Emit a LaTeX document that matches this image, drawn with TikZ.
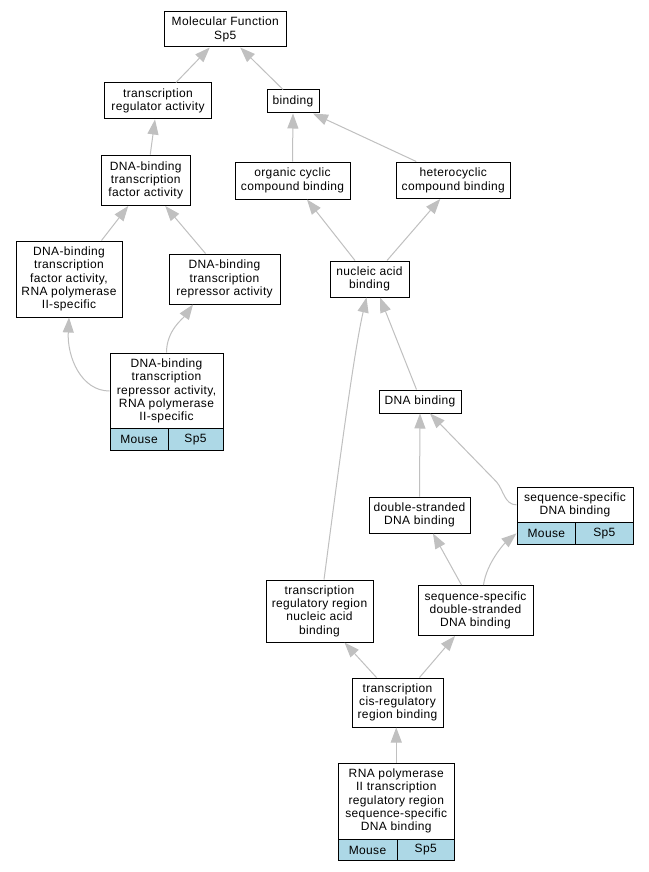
\documentclass[tikz,border=0pt]{standalone}
\usepackage{fontspec}
\setmainfont{Liberation Sans}[LetterSpace=3]
\usepackage{tikz}
\usetikzlibrary{arrows.meta}
\definecolor{edgegray}{HTML}{C0C0C0}
\definecolor{cellblue}{HTML}{ADD8E6}

\begin{document}
\begin{tikzpicture}[x=1pt, y=-1pt,
  term/.style 2 args={draw, line width=1pt, inner sep=0pt, align=center,
    minimum width=#1pt, minimum height=#2pt,
    font=\fontsize{12}{13.3}\selectfont},
  cell/.style={term={#1}{21.5}, fill=cellblue},
  isa/.style={draw=edgegray, line width=1pt, -{Triangle[length=15pt, width=11pt]}}]
\fill[white] (0,0) rectangle (648,872);
\useasboundingbox (0,0) rectangle (648,872);
%terms
\node[term={122.5}{35}] (mf) at (225.25, 29.5) {Molecular Function\\Sp5};
\node[term={107}{36}] (tra) at (158, 101) {transcription\\regulator activity};
\node[term={52}{23}] (bnd) at (293, 101.5) {binding};
\node[term={89.5}{50.5}] (dbtfa) at (145.75, 180.25) {DNA-binding\\transcription\\factor activity};
\node[term={115}{37}] (occb) at (292.5, 180.5) {organic cyclic\\compound binding};
\node[term={114.5}{36.5}] (hccb) at (453.25, 180.25) {heterocyclic\\compound binding};
\node[term={106}{76}] (rnapa) at (69, 279) {DNA-binding\\transcription\\factor activity,\\RNA polymerase\\II-specific};
\node[term={111}{50}] (dbtra) at (224.5, 279) {DNA-binding\\transcription\\repressor activity};
\node[term={79}{36}] (nab) at (369.5, 279) {nucleic acid\\binding};
\node[term={82}{23}] (dnab) at (420, 401.5) {DNA binding};
\node[term={101}{36}] (dsdb) at (419.5, 515) {double-stranded\\DNA binding};
\node[term={107}{62}] (trrnab) at (319.5, 611) {transcription\\regulatory region\\nucleic acid\\binding};
\node[term={115}{50}] (ssdsdb) at (475.5, 610.5) {sequence-specific\\double-stranded\\DNA binding};
\node[term={91}{49}] (tcrrb) at (397.5, 702.5) {transcription\\cis-regulatory\\region binding};
%annotated terms
\node[term={113}{76}] (dbtrp) at (166.5, 391) {DNA-binding\\transcription\\repressor activity,\\RNA polymerase\\II-specific};
\node[cell=58] (m10) at (139, 439.5) {Mouse};
\node[cell=55] (s10) at (195.5, 439.5) {Sp5};
\node[term={116}{35.7}] (sdb) at (575, 504.85) {sequence-specific\\DNA binding};
\node[cell=58.7] (m13) at (546.35, 533.35) {Mouse};
\node[cell=57.3] (s13) at (604.35, 533.35) {Sp5};
\node[term={116.5}{76}] (rnap) at (396.25, 801) {RNA polymerase\\II transcription\\regulatory region\\sequence-specific\\DNA binding};
\node[cell=59] (m17) at (367.5, 850) {Mouse};
\node[cell=57.5] (s17) at (425.75, 850) {Sp5};
%is-a edges
\draw[isa] ([xshift=18]tra.north) -- ([xshift=-15.5]mf.south);
\draw[isa] ([xshift=-10]bnd.north) -- ([xshift=15]mf.south);
\draw[isa] ([xshift=4.5]dbtfa.north) -- ([xshift=-3]tra.south);
\draw[isa] (occb.north) -- (bnd.south);
\draw[isa] ([xshift=-37]hccb.north) -- ([xshift=20]bnd.south);
\draw[isa] ([xshift=32.5]rnapa.north) -- ([xshift=-17.5]dbtfa.south);
\draw[isa] ([xshift=-19]dbtra.north) -- ([xshift=19.5]dbtfa.south);
\draw[isa] ([xshift=-14.5]nab.north) -- ([xshift=14.5]occb.south);
\draw[isa] ([xshift=17.5]nab.north) -- ([xshift=-13]hccb.south);
\draw[isa] (dbtrp.west) .. controls +(-28,0) and +(-2,40) .. (rnapa.south);
\draw[isa] (dbtrp.north) .. controls +(0,-22) and +(-10,14) .. ([xshift=-31.5]dbtra.south);
\draw[isa] ([xshift=-3.5]dnab.north) -- ([xshift=10.5]nab.south);
\draw[isa] ([xshift=4.5]trrnab.north) .. controls +(8,-60) and +(-14,60) .. ([xshift=-3]nab.south);
\draw[isa] (dsdb.north) -- (dnab.south);
\draw[isa] (sdb.west) .. controls +(-12,0) and +(7,8) .. ++(-20,-23) -- ([xshift=10]dnab.south);
\draw[isa] ([xshift=-14]ssdsdb.north) -- ([xshift=13.5]dsdb.south);
\draw[isa] ([xshift=8]ssdsdb.north) .. controls +(3,-22) and +(-12,10) .. (m13.west);
\draw[isa] ([xshift=-21]tcrrb.north) -- ([xshift=25]trrnab.south);
\draw[isa] ([xshift=22]tcrrb.north) -- ([xshift=-20.5]ssdsdb.south);
\draw[isa] (rnap.north) -- (rnap.north |- tcrrb.south);
\end{tikzpicture}
\end{document}
